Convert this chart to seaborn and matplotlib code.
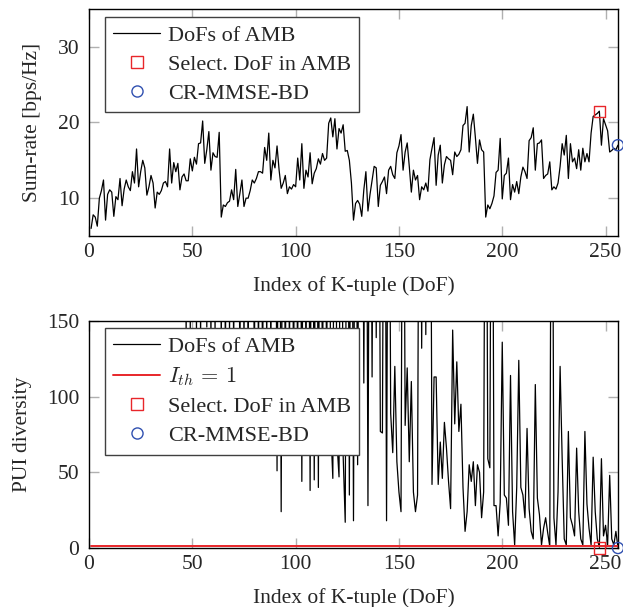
import numpy as np
import pandas as pd
import seaborn as sns
import matplotlib.pyplot as plt
from matplotlib.lines import Line2D

# sum-rate of every K-tuple (index 1..256)
sum_rate = [
    6.0, 7.8, 7.5, 6.3, 10.0, 11.0, 12.4, 7.1, 10.5, 11.1, 10.8, 7.6, 10.2, 9.8, 12.6, 9.0,
    11.2, 12.4, 11.5, 11.0, 13.5, 12.0, 16.5, 11.5, 13.5, 15.0, 14.0, 10.4, 11.5, 13.0, 12.0, 8.7,
    10.8, 10.5, 11.0, 12.0, 12.2, 11.5, 16.5, 12.0, 14.7, 13.5, 14.6, 11.1, 12.8, 13.2, 12.3, 12.3,
    15.2, 13.6, 15.4, 14.5, 17.2, 17.3, 20.2, 14.6, 16.4, 18.8, 13.7, 16.0, 15.5, 15.4, 18.7, 7.5,
    9.1, 8.9, 9.4, 9.6, 11.1, 9.8, 13.8, 8.9, 10.6, 12.4, 8.9, 10.0, 10.0, 11.0, 12.4, 12.0,
    12.6, 13.5, 13.5, 13.3, 16.7, 15.0, 18.6, 12.4, 15.0, 14.0, 16.9, 13.7, 11.3, 12.0, 13.0, 10.6,
    11.5, 11.2, 11.8, 11.5, 15.3, 12.4, 17.2, 11.3, 13.7, 12.8, 16.0, 11.9, 13.3, 13.9, 15.2, 14.5,
    15.9, 15.0, 15.3, 19.9, 20.6, 18.1, 20.5, 16.5, 19.2, 18.6, 19.7, 16.2, 16.3, 15.0, 12.0, 7.1,
    9.3, 9.7, 9.2, 7.6, 11.1, 13.5, 8.3, 10.5, 12.4, 14.2, 14.0, 8.9, 11.7, 12.2, 12.8, 10.6,
    13.7, 14.2, 13.1, 12.6, 16.0, 16.9, 18.4, 13.7, 16.1, 17.3, 14.2, 10.8, 13.7, 12.4, 13.0, 9.8,
    11.5, 11.1, 12.0, 10.9, 15.1, 16.6, 18.0, 11.7, 15.7, 17.0, 12.0, 14.4, 15.5, 15.2, 15.0, 13.1,
    16.1, 15.5, 15.8, 16.4, 19.6, 19.9, 22.1, 16.1, 19.6, 21.1, 18.0, 14.6, 17.7, 16.4, 16.1, 7.5,
    9.1, 8.6, 9.3, 10.3, 13.4, 13.7, 17.9, 9.9, 13.0, 13.3, 15.3, 9.8, 11.8, 10.8, 12.2, 10.6,
    12.8, 14.1, 13.5, 12.6, 17.6, 18.0, 19.3, 13.7, 17.2, 17.3, 17.7, 12.6, 13.0, 13.2, 14.8, 11.1,
    11.5, 11.2, 12.0, 14.2, 17.2, 15.7, 18.3, 12.6, 17.2, 14.8, 15.3, 13.9, 16.4, 13.7, 16.6, 14.8,
    15.9, 14.8, 18.6, 20.8, 21.0, 21.2, 21.5, 17.0, 20.5, 19.7, 18.9, 16.1, 16.3, 16.6, 16.4, 17.0,
]

# PUI diversity of every K-tuple (values above 150 are off the axis)
pui = [
    400, 400, 400, 400, 400, 400, 400, 400, 400, 400, 400, 400, 400, 400, 400, 400,
    400, 400, 400, 400, 400, 400, 400, 400, 400, 400, 400, 400, 400, 400, 400, 400,
    400, 400, 400, 400, 400, 400, 400, 400, 400, 400, 400, 400, 400, 400, 140, 400,
    145, 400, 400, 142, 400, 138, 400, 400, 146, 400, 135, 400, 140, 400, 400, 130,
    400, 120, 400, 140, 400, 125, 400, 400, 110, 400, 130, 400, 115, 400, 400, 105,
    400, 120, 400, 100, 400, 130, 400, 120, 400, 400, 51, 400, 24, 400, 100, 400,
    120, 400, 95, 400, 130, 400, 44, 400, 110, 400, 38, 400, 45, 400, 40, 400,
    90, 400, 100, 400, 80, 46, 400, 70, 47, 400, 61, 17, 400, 35, 400, 18,
    400, 55, 400, 400, 109, 400, 28, 400, 113, 400, 139, 400, 77, 76, 400, 18,
    400, 89, 63, 120, 57, 37, 24, 400, 81, 119, 57, 110, 37, 24, 35, 400,
    132, 400, 141, 400, 400, 42, 113, 113, 42, 70, 46, 83, 66, 44, 26, 144,
    82, 123, 77, 95, 40, 11, 24, 55, 44, 57, 28, 55, 50, 20, 37, 400,
    59, 53, 400, 28, 28, 8, 30, 136, 35, 33, 15, 114, 24, 2, 40, 124,
    40, 35, 20, 79, 26, 11, 6, 108, 33, 22, 2, 13, 20, 10, 1, 400,
    20, 2, 37, 120, 59, 6, 2, 77, 20, 15, 8, 66, 24, 6, 2, 77,
    29, 13, 2, 60, 24, 6, 0.5, 59, 8, 15, 2, 48, 6, 2, 11, 0.5,
]

k_index = list(range(1, 257))
i_th = 1
sel_idx, sel_rate, sel_pui = 247, 21.5, 0.0
cr_idx, cr_rate, cr_pui = 256, 17.0, 0.0

df = pd.DataFrame({"k": k_index, "rate": sum_rate, "pui": pui})

sns.set_theme(style="ticks")
plt.rcParams["font.family"] = ["Liberation Serif", "DejaVu Serif"]
plt.rcParams["mathtext.fontset"] = "cm"

RED = "#e8262a"
BLUE = "#3050b0"
TICK = "#b0b0b0"
FS = 15.5
LFS = 16

fig = plt.figure(figsize=(6.23, 6.07), dpi=100)
ax1 = fig.add_axes([0.1429, 0.6112, 0.849, 0.374])
ax2 = fig.add_axes([0.1429, 0.0972, 0.849, 0.374])

# top: sum-rate
sns.lineplot(data=df, x="k", y="rate", ax=ax1, color="black", lw=0.9)
sns.scatterplot(x=[sel_idx], y=[sel_rate], ax=ax1, marker="s", s=64,
                facecolor="none", edgecolor=RED, linewidth=1.0, zorder=5, clip_on=False)
sns.scatterplot(x=[cr_idx], y=[cr_rate], ax=ax1, marker="o", s=64,
                facecolor="none", edgecolor=BLUE, linewidth=1.0, zorder=5, clip_on=False)
ax1.set_ylim(5, 35)
ax1.set_yticks([10, 20, 30])
ax1.set_ylabel("Sum-rate [bps/Hz]", fontsize=FS, labelpad=11)

# bottom: PUI diversity
sns.lineplot(data=df, x="k", y="pui", ax=ax2, color="black", lw=0.9)
sns.lineplot(x=[k_index[0], k_index[-1]], y=[i_th, i_th], ax=ax2, color=RED, lw=1.4)
sns.scatterplot(x=[sel_idx], y=[sel_pui], ax=ax2, marker="s", s=64,
                facecolor="none", edgecolor=RED, linewidth=1.0, zorder=5, clip_on=False)
sns.scatterplot(x=[cr_idx], y=[cr_pui], ax=ax2, marker="o", s=64,
                facecolor="none", edgecolor=BLUE, linewidth=1.0, zorder=5, clip_on=False)
ax2.set_ylim(0, 150)
ax2.set_yticks([0, 50, 100, 150])
ax2.set_ylabel("PUI diversity", fontsize=FS, labelpad=11)

h_line = Line2D([], [], color="black", lw=0.9)
h_ith = Line2D([], [], color=RED, lw=1.4)
h_sq = Line2D([], [], ls="none", marker="s", ms=8, mfc="none", mec=RED, mew=1.0)
h_ci = Line2D([], [], ls="none", marker="o", ms=8, mfc="none", mec=BLUE, mew=1.0)

leg_kw = dict(loc="upper left", fontsize=LFS, frameon=True, fancybox=False,
              edgecolor="#404040", framealpha=1, borderaxespad=0, handlelength=2.1,
              handletextpad=0.35, labelspacing=0.38, borderpad=0.38)
l1 = ax1.legend([h_line, h_sq, h_ci], ["DoFs of AMB", "Select. DoF in AMB", "CR-MMSE-BD"],
                bbox_to_anchor=(0.030, 0.965), **leg_kw)
l2 = ax2.legend([h_line, h_ith, h_sq, h_ci],
                ["DoFs of AMB", r"$I_{th}\, =\, 1$", "Select. DoF in AMB", "CR-MMSE-BD"],
                bbox_to_anchor=(0.030, 0.969), **leg_kw)
for leg in (l1, l2):
    leg.get_frame().set_linewidth(1.0)

for ax in (ax1, ax2):
    ax.set_xlim(0, 256)
    ax.set_xticks([0, 50, 100, 150, 200, 250])
    ax.set_xlabel("Index of K-tuple (DoF)", fontsize=FS, labelpad=10)
    ax.tick_params(axis="both", which="major", direction="in", length=7, width=1.0,
                   color=TICK, labelsize=FS, top=True, right=True, pad=5)
    ax.tick_params(axis="y", pad=7)
    for s in ax.spines.values():
        s.set_color("black")
        s.set_linewidth(1.0)

fig.savefig("out.png", dpi=100)
